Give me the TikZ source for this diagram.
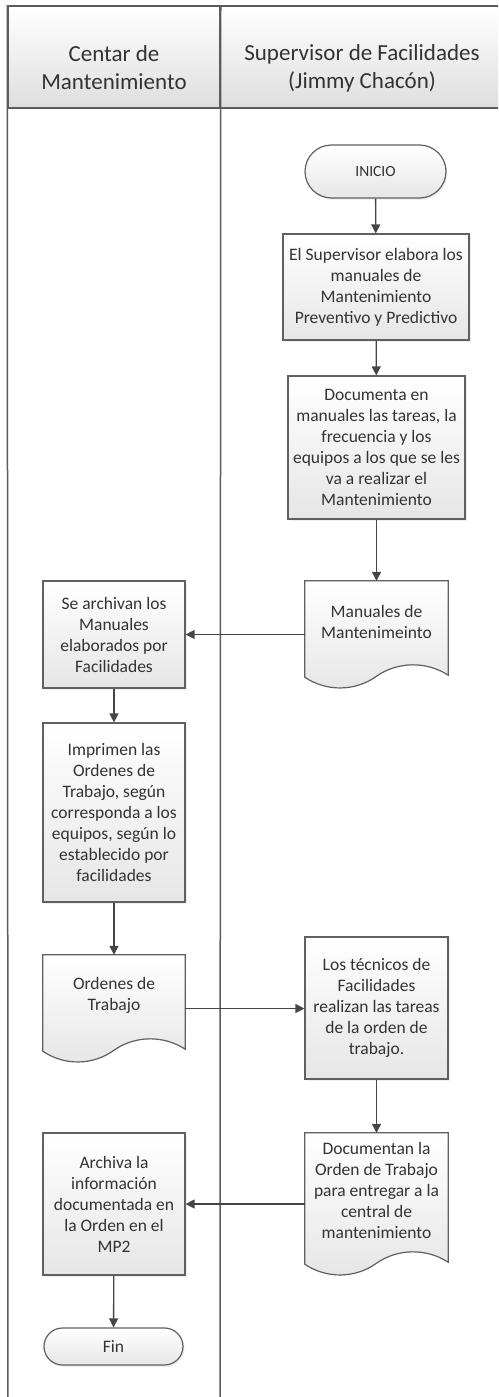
\documentclass[tikz,border=0pt]{standalone}
\usepackage{fontspec}
\setmainfont{Carlito}
\usetikzlibrary{shadows,arrows.meta,calc,shapes.misc}

\definecolor{lanec}{HTML}{5C5C5C}
\definecolor{boxline}{HTML}{606060}
\definecolor{txt}{HTML}{333333}
\definecolor{fillbot}{HTML}{E6E6E6}
\definecolor{hdrbot}{HTML}{DEDEDE}
\definecolor{arrowc}{HTML}{454545}

\tikzset{
  boxfont/.style={font=\fontsize{17.5}{21}\selectfont},
  proc/.style={rectangle, draw=boxline, line width=1.2pt,
    top color=white, bottom color=fillbot,
    drop shadow={opacity=0.12, shadow xshift=1.5pt, shadow yshift=-2pt},
    align=center, inner sep=2pt, text=txt, boxfont},
  term/.style={proc, rounded rectangle},
  docnode/.style={rectangle, inner sep=0pt, minimum width=143pt, minimum height=107pt},
  doctext/.style={align=center, text=txt, inner sep=1pt, boxfont},
  docmain/.style={draw=boxline, line width=1.2pt, top color=white, bottom color=fillbot},
  docshadow/.style={fill=black, opacity=0.12, xshift=1.5pt, yshift=-2pt},
  lane/.style={draw=lanec, line width=1.5pt},
  hdrcell/.style={rectangle, draw=lanec, line width=1.5pt, inner sep=0pt,
    top color=white, bottom color=hdrbot},
  hdrtext/.style={align=center, text=txt, font=\fontsize{23}{28}\selectfont},
  flow/.style={draw=arrowc, line width=1.3pt, -{Triangle[length=9pt,width=9pt]}},
}

% document symbol with a wavy bottom edge, built on an empty node
\newcommand\docpath[2]{%
  \path[#2] let \p1=(#1.north west), \p2=(#1.south east), \n1={\x2-\x1} in
    (\x1,\y1) -- (\x2,\y1) -- (\x2,\y2+13pt)
    .. controls (\x2-0.15*\n1,\y2+27pt) and (\x2-0.35*\n1,\y2+27pt) .. (\x2-0.5*\n1,\y2+12pt)
    .. controls (\x2-0.65*\n1,\y2-3.5pt) and (\x2-0.85*\n1,\y2-3.5pt) .. (\x1,\y2+11pt)
    -- cycle;}
\newcommand\docshape[1]{\docpath{#1}{docshadow}\docpath{#1}{docmain}}

\begin{document}
\begin{tikzpicture}[x=1pt, y=-1pt]
\clip (0,0) rectangle (498,1397);
\fill[white] (0,0) rectangle (498,1397);

% swimlanes
\node[hdrcell, minimum width=212pt, minimum height=102pt] (h1) at (114,57) {};
\node[hdrcell, minimum width=290pt, minimum height=102pt] (h2) at (365,57) {};
\node[hdrtext] (h1t) at ([yshift=-11pt]h1.center) {Centar de\\Mantenimiento};
\node[hdrtext] (h2t) at (362,68) {Supervisor de Facilidades\\(Jimmy Chacón)};
\coordinate (lb) at (8,1400);
\coordinate (mb) at (220,1400);
\path[lane] (h1.north west) -- (lb);
\path[lane] (h1.north east) -- (mb);

% right lane
\node[term, minimum width=145pt, minimum height=53pt, font=\fontsize{15.5}{19}\selectfont] (ini) at (375.5,171.5) {INICIO};
\node[proc, minimum width=186pt, minimum height=106pt] (b1) at (376,287)
  {El Supervisor elabora los\\manuales de\\Mantenimiento\\Preventivo y Predictivo};
\node[proc, minimum width=177pt, minimum height=143pt] (b2) at (376.5,447.5)
  {Documenta en\\manuales las tareas, la\\frecuencia y los\\equipos a los que se les\\va a realizar el\\Mantenimiento};
\node[docnode] (d1) at (376.5,634.5) {};
\docshape{d1}
\node[doctext] (d1t) at ([yshift=12.5pt]d1.center) {Manuales de\\Mantenimeinto};
\node[proc, minimum width=143pt, minimum height=142pt] (b5) at (376.5,1008)
  {Los técnicos de\\Facilidades\\realizan las tareas\\de la orden de\\trabajo.};
\node[docnode, minimum height=142pt] (d3) at (376.5,1204) {};
\docshape{d3}
\node[doctext] (d3t) at ([yshift=13.5pt]d3.center)
  {Documentan la\\Orden de Trabajo\\para entregar a la\\central de\\mantenimiento};

% left lane
\node[proc, minimum width=142pt, minimum height=107pt] (b3) at (114,634.5)
  {Se archivan los\\Manuales\\elaborados por\\Facilidades};
\node[proc, minimum width=142pt, minimum height=179pt] (b4) at (114,812.5)
  {Imprimen las\\Ordenes de\\Trabajo, según\\corresponda a los\\equipos, según lo\\establecido por\\facilidades};
\node[docnode, minimum width=142pt] (d2) at (114,1008.5) {};
\docshape{d2}
\node[doctext] (d2t) at ([yshift=13pt]d2.center) {Ordenes de\\Trabajo};
\node[proc, minimum width=142pt, minimum height=142pt] (b6) at (114,1204)
  {Archiva la\\información\\documentada en\\la Orden en el\\MP2};
\node[term, minimum width=143pt, minimum height=37pt] (fin) at (113.5,1346.5) {Fin};

% connectors
\path[flow] (ini) -- (b1);
\path[flow] (b1) -- (b2);
\path[flow] (b2) -- (d1);
\path[flow] (d1.west) -- (b3.east);
\path[flow] (b3) -- (b4);
\path[flow] (b4) -- (d2);
\path[flow] (d2.east) -- (d2.east -| b5.west);
\path[flow] (b5) -- (d3);
\path[flow] (d3.west) -- (b6.east);
\path[flow] (b6) -- (fin);
\end{tikzpicture}
\end{document}
